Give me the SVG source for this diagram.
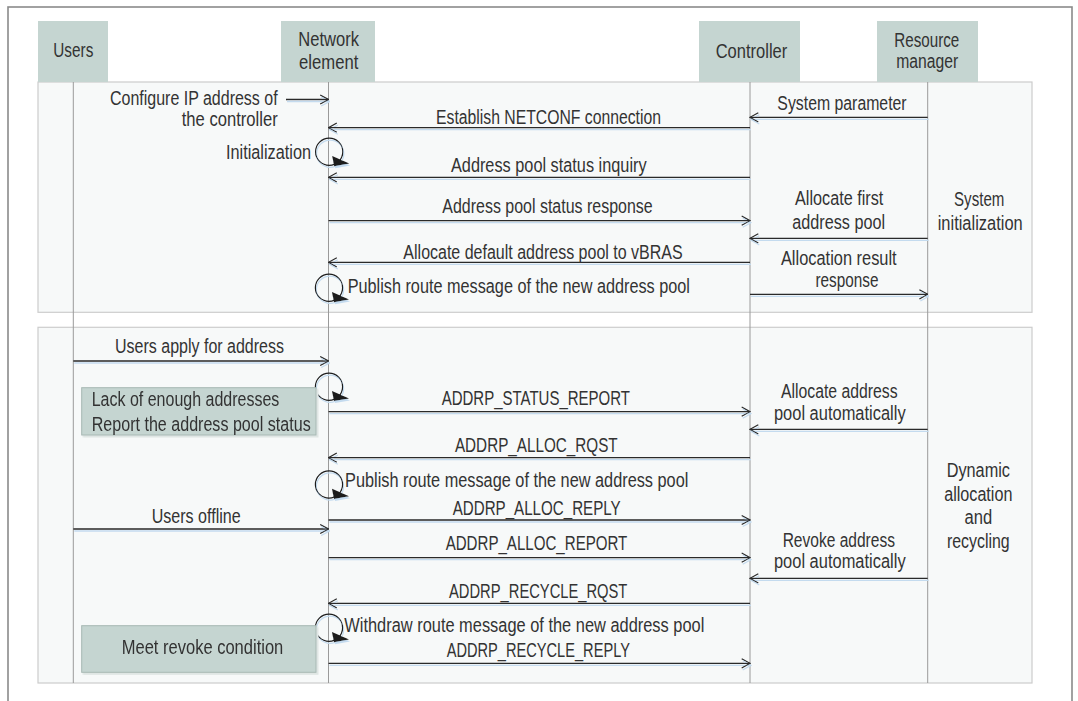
<svg xmlns="http://www.w3.org/2000/svg" width="1078" height="701" viewBox="0 0 1078 701">
  <defs>
    <style>
      text { font-family: "Liberation Sans", Arial, sans-serif; font-size: 20px; fill: #333333; text-anchor: middle; }
      text.start { text-anchor: start; }
      .frame { fill: #ffffff; stroke: #8a8a8a; stroke-width: 1.6; }
      .group { fill: #f7f9f9; stroke: #cccccc; stroke-width: 1.2; }
      .head { fill: #c5d5d1; }
      .note { fill: #c5d5d1; stroke: #a7b8b3; stroke-width: 1; }
      .life { stroke: #9a9a9a; stroke-width: 1; }
      .msg { stroke: #2a2a2a; stroke-width: 1.3; fill: none; marker-end: url(#open); }
    </style>
    <marker id="open" viewBox="0 0 10 12" markerWidth="10" markerHeight="12" refX="9.3" refY="6" orient="auto" markerUnits="userSpaceOnUse">
      <path d="M1,1.4 L9.3,6 L1,10.6" fill="none" stroke="#2a2a2a" stroke-width="1.2"/>
    </marker>
    <filter id="tint" x="-5%" y="-50%" width="110%" height="200%">
      <feFlood flood-color="#c4dbef"/>
      <feComposite in2="SourceAlpha" operator="in"/>
      <feOffset dx="0.6" dy="1.6"/>
      <feMerge><feMergeNode/><feMergeNode in="SourceGraphic"/></feMerge>
    </filter>
    <filter id="soft" x="-5%" y="-10%" width="110%" height="130%">
      <feFlood flood-color="#dfe6e4"/>
      <feComposite in2="SourceAlpha" operator="in"/>
      <feOffset dx="1.5" dy="1.5"/>
      <feMerge><feMergeNode/><feMergeNode in="SourceGraphic"/></feMerge>
    </filter>
    <!-- self call: circle with a filled arrowhead at its lower right -->
    <g id="loop">
      <circle cx="0" cy="0" r="13.6" fill="none" stroke="#1e1e1e" stroke-width="1.2"/>
      <path d="M3,4.3 L20,11.8 L5,14.4 Z" fill="#1e1e1e"/>
    </g>
  </defs>

  <!-- outer frame -->
  <rect class="frame" x="8" y="7" width="1064" height="710"/>

  <!-- phase groups -->
  <g id="phase-init">
    <rect class="group" x="38" y="82" width="994" height="230.3"/>
    <text x="979.2" y="205.7" textLength="50.3" lengthAdjust="spacingAndGlyphs">System</text>
    <text x="980.2" y="230" textLength="85" lengthAdjust="spacingAndGlyphs">initialization</text>
  </g>
  <g id="phase-dynamic">
    <rect class="group" x="38" y="327.3" width="994" height="355.7"/>
    <text x="978.3" y="476.7" textLength="63.3" lengthAdjust="spacingAndGlyphs">Dynamic</text>
    <text x="978.3" y="500.5" textLength="68.3" lengthAdjust="spacingAndGlyphs">allocation</text>
    <text x="978.3" y="524" textLength="27.7" lengthAdjust="spacingAndGlyphs">and</text>
    <text x="978.3" y="547.7" textLength="62.7" lengthAdjust="spacingAndGlyphs">recycling</text>
  </g>

  <!-- participants -->
  <g id="users">
    <rect class="head" x="38" y="21" width="70" height="61"/>
    <line class="life" x1="73.3" y1="82" x2="73.3" y2="683"/>
    <text x="73.3" y="57.3" textLength="40" lengthAdjust="spacingAndGlyphs">Users</text>
  </g>
  <g id="network-element">
    <rect class="head" x="281" y="21" width="94" height="61"/>
    <line class="life" x1="328.5" y1="82" x2="328.5" y2="683"/>
    <text x="328.7" y="46" textLength="60.7" lengthAdjust="spacingAndGlyphs">Network</text>
    <text x="328.7" y="69.3" textLength="59.3" lengthAdjust="spacingAndGlyphs">element</text>
  </g>
  <g id="controller">
    <rect class="head" x="699" y="21" width="101" height="61"/>
    <line class="life" x1="750" y1="82" x2="750" y2="683"/>
    <text x="751.5" y="58.3" textLength="71.6" lengthAdjust="spacingAndGlyphs">Controller</text>
  </g>
  <g id="resource-manager">
    <rect class="head" x="877" y="21" width="101" height="61"/>
    <line class="life" x1="927.7" y1="82" x2="927.7" y2="683"/>
    <text x="926.8" y="46.7" textLength="65" lengthAdjust="spacingAndGlyphs">Resource</text>
    <text x="927.2" y="68.3" textLength="62" lengthAdjust="spacingAndGlyphs">manager</text>
  </g>

  <!-- messages -->
  <g id="connectors" filter="url(#tint)">
    <line class="msg" x1="286" y1="99.5" x2="328.5" y2="99.5"/>
    <line class="msg" x1="750" y1="127.7" x2="328.5" y2="127.7"/>
    <line class="msg" x1="927.7" y1="117.3" x2="750" y2="117.3"/>
    <line class="msg" x1="750" y1="177.3" x2="328.5" y2="177.3"/>
    <line class="msg" x1="328.5" y1="220.7" x2="750" y2="220.7"/>
    <line class="msg" x1="927.7" y1="238.3" x2="750" y2="238.3"/>
    <line class="msg" x1="750" y1="262.3" x2="328.5" y2="262.3"/>
    <line class="msg" x1="750" y1="294.3" x2="927.7" y2="294.3"/>

    <line class="msg" x1="73.3" y1="361" x2="328.5" y2="361"/>
    <line class="msg" x1="328.5" y1="411.7" x2="750" y2="411.7"/>
    <line class="msg" x1="927.7" y1="429.3" x2="750" y2="429.3"/>
    <line class="msg" x1="750" y1="457.7" x2="328.5" y2="457.7"/>
    <line class="msg" x1="328.5" y1="520" x2="750" y2="520"/>
    <line class="msg" x1="73.3" y1="529" x2="328.5" y2="529"/>
    <line class="msg" x1="328.5" y1="557.7" x2="750" y2="557.7"/>
    <line class="msg" x1="927.7" y1="578.3" x2="750" y2="578.3"/>
    <line class="msg" x1="750" y1="603.3" x2="328.5" y2="603.3"/>
    <line class="msg" x1="328.5" y1="663.3" x2="750" y2="663.3"/>

    <use href="#loop" x="329.2" y="151.8"/>
    <use href="#loop" x="329" y="287.8"/>
    <use href="#loop" x="329" y="386.7"/>
    <use href="#loop" x="329" y="484.5"/>
    <use href="#loop" x="329" y="627.8"/>
  </g>

  <!-- message labels -->
  <g id="labels">
    <text x="193.8" y="105" textLength="167.7" lengthAdjust="spacingAndGlyphs">Configure IP address of</text>
    <text x="229.7" y="126" textLength="96" lengthAdjust="spacingAndGlyphs">the controller</text>
    <text x="548.5" y="124" textLength="225" lengthAdjust="spacingAndGlyphs">Establish NETCONF connection</text>
    <text x="842" y="109.5" textLength="129.3" lengthAdjust="spacingAndGlyphs">System parameter</text>
    <text x="268.5" y="159.3" textLength="85" lengthAdjust="spacingAndGlyphs">Initialization</text>
    <text x="548.8" y="171.7" textLength="195.7" lengthAdjust="spacingAndGlyphs">Address pool status inquiry</text>
    <text x="547.5" y="212.7" textLength="210.3" lengthAdjust="spacingAndGlyphs">Address pool status response</text>
    <text x="839.2" y="205" textLength="88.3" lengthAdjust="spacingAndGlyphs">Allocate first</text>
    <text x="838.7" y="229.3" textLength="92.7" lengthAdjust="spacingAndGlyphs">address pool</text>
    <text x="543" y="259.3" textLength="279.3" lengthAdjust="spacingAndGlyphs">Allocate default address pool to vBRAS</text>
    <text x="838.8" y="265" textLength="115.7" lengthAdjust="spacingAndGlyphs">Allocation result</text>
    <text x="847" y="286.7" textLength="63" lengthAdjust="spacingAndGlyphs">response</text>
    <text x="518.8" y="292.7" textLength="342.3" lengthAdjust="spacingAndGlyphs">Publish route message of the new address pool</text>

    <text x="199.5" y="352.7" textLength="169" lengthAdjust="spacingAndGlyphs">Users apply for address</text>
    <text x="535.8" y="405" textLength="188.3" lengthAdjust="spacingAndGlyphs">ADDRP_STATUS_REPORT</text>
    <text x="839.3" y="397.7" textLength="116.7" lengthAdjust="spacingAndGlyphs">Allocate address</text>
    <text x="839.8" y="420" textLength="131.7" lengthAdjust="spacingAndGlyphs">pool automatically</text>
    <text x="536.3" y="451.7" textLength="162.7" lengthAdjust="spacingAndGlyphs">ADDRP_ALLOC_RQST</text>
    <text x="516.7" y="486.7" textLength="343.3" lengthAdjust="spacingAndGlyphs">Publish route message of the new address pool</text>
    <text x="536.7" y="514.5" textLength="168" lengthAdjust="spacingAndGlyphs">ADDRP_ALLOC_REPLY</text>
    <text x="196.2" y="522.7" textLength="89" lengthAdjust="spacingAndGlyphs">Users offline</text>
    <text x="536.5" y="550" textLength="181.7" lengthAdjust="spacingAndGlyphs">ADDRP_ALLOC_REPORT</text>
    <text x="838.8" y="546.7" textLength="112.3" lengthAdjust="spacingAndGlyphs">Revoke address</text>
    <text x="839.8" y="568.3" textLength="131.7" lengthAdjust="spacingAndGlyphs">pool automatically</text>
    <text x="538.2" y="597.7" textLength="178.3" lengthAdjust="spacingAndGlyphs">ADDRP_RECYCLE_RQST</text>
    <text x="524.3" y="631.7" textLength="360" lengthAdjust="spacingAndGlyphs">Withdraw route message of the new address pool</text>
    <text x="538.3" y="656.7" textLength="183.3" lengthAdjust="spacingAndGlyphs">ADDRP_RECYCLE_REPLY</text>
  </g>

  <!-- notes on the network element -->
  <g id="note-lack" filter="url(#soft)">
    <rect class="note" x="81.7" y="387.7" width="234.3" height="47.3"/>
    <text class="start" x="91.7" y="406" textLength="187.6" lengthAdjust="spacingAndGlyphs">Lack of enough addresses</text>
    <text class="start" x="91.7" y="431" textLength="219" lengthAdjust="spacingAndGlyphs">Report the address pool status</text>
  </g>
  <g id="note-revoke" filter="url(#soft)">
    <rect class="note" x="81.7" y="625.7" width="234.3" height="46.6"/>
    <text x="202.5" y="654" textLength="161.6" lengthAdjust="spacingAndGlyphs">Meet revoke condition</text>
  </g>
</svg>
